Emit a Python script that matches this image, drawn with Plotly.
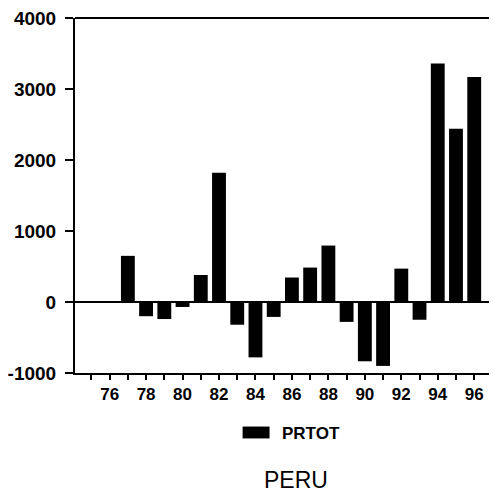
import plotly.graph_objects as go

years = list(range(77, 97))
prtot = [650, -200, -240, -70, 380, 1820, -320, -780, -210, 345, 485, 795,
         -280, -835, -900, 470, -250, 3360, 2440, 3170]
x_tick_vals = list(range(76, 97, 2))
x_tick_text = [str(v) for v in x_tick_vals]
y_tick_vals = [-1000, 0, 1000, 2000, 3000, 4000]
y_tick_text = [str(v) for v in y_tick_vals]
series_name = "PRTOT"
title_text = "PERU"

FONT = "Liberation Sans"
OFF = 8  # page body margin offset

W, H = 497 - OFF, 499 - OFF
L, T = 74 - OFF, 15 - OFF
B = 499 - 373
PW, PH = W - L, H - T - B

fig = go.Figure()
fig.add_trace(go.Bar(x=years, y=prtot, name=series_name,
                     marker=dict(color="black", line=dict(width=0)),
                     width=0.76, showlegend=False))

fig.update_layout(
    width=W, height=H,
    margin=dict(l=L, r=0, t=T, b=B),
    paper_bgcolor="white", plot_bgcolor="white",
    font=dict(family=FONT, color="black"),
    xaxis=dict(range=[74.1, 97.25], tickvals=x_tick_vals, ticktext=x_tick_text,
               ticks="outside", ticklen=5, tickwidth=1.5, tickcolor="black",
               minor=dict(dtick=1, tick0=75, ticks="outside", ticklen=5,
                          tickwidth=1.5, tickcolor="black"),
               showline=True, linecolor="black", linewidth=2, mirror=False,
               showgrid=False, zeroline=False,
               tickfont=dict(family=FONT, size=17, color="black", weight="bold"),
               ticklabelstandoff=0),
    yaxis=dict(range=[-1000, 4000], tickvals=y_tick_vals, ticktext=y_tick_text,
               ticks="outside", ticklen=8, tickwidth=1.5, tickcolor="black",
               showline=True, linecolor="black", linewidth=2, mirror=False,
               showgrid=False, zeroline=True, zerolinecolor="black", zerolinewidth=1.5,
               tickfont=dict(family=FONT, size=19, color="black", weight="bold"),
               ticklabelstandoff=5, ticklabeloverflow="allow"),
)

def px(xp):
    return (xp - 74) / PW

def py(yp):
    return (373 - yp) / PH

# top frame line
fig.add_shape(type="line", xref="paper", yref="paper", x0=0, x1=1, y0=1, y1=1,
              line=dict(color="black", width=2))

# legend key and label
fig.add_shape(type="rect", xref="paper", yref="paper",
              x0=px(242), x1=px(269), y0=py(439), y1=py(427),
              fillcolor="black", line=dict(width=0))
fig.add_annotation(text=series_name, xref="paper", yref="paper",
                   x=px(279), y=py(434),
                   xanchor="left", yanchor="middle", showarrow=False,
                   font=dict(family=FONT, size=17, color="black", weight="bold"))
fig.add_annotation(text=title_text, xref="paper", yref="paper",
                   x=px(296), y=py(481),
                   xanchor="center", yanchor="middle", showarrow=False,
                   font=dict(family=FONT, size=23, color="black"))

fig.write_html("out.html")
